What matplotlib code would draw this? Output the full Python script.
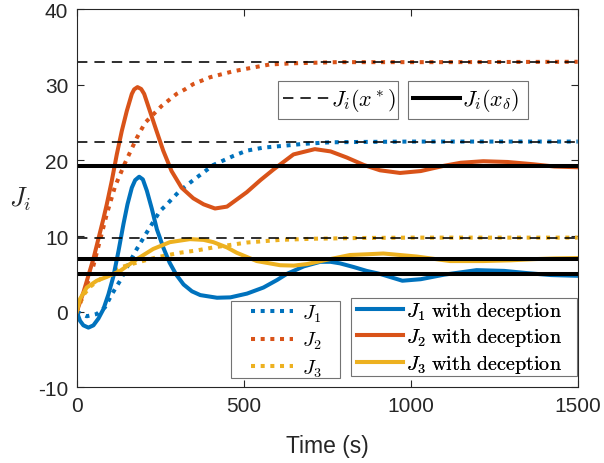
import matplotlib
matplotlib.use("Agg")
import matplotlib.pyplot as plt
from matplotlib.lines import Line2D
from matplotlib.patches import Rectangle

plt.rcParams['font.family'] = ['Liberation Sans', 'DejaVu Sans']
plt.rcParams['mathtext.fontset'] = 'cm'
plt.rcParams['axes.unicode_minus'] = False

# ---- data ----
# J1 with deception
t_j1d = [0, 10, 20, 35, 50, 65, 80, 95, 110, 125, 140, 152, 165, 175, 187, 198, 210, 225,
         240, 260, 278, 298, 320, 345, 370, 420, 460, 510, 559, 600, 629, 680, 729, 760,
         788, 830, 868, 908, 975, 1030, 1100, 1197, 1280, 1350, 1420, 1500]
j1d = [0, -1.2, -1.8, -2.1, -1.8, -0.9, 0.35, 2.3, 4.7, 8.0, 11.6, 14.2, 16.4, 17.4, 17.85,
       17.5, 16.0, 13.6, 10.9, 8.4, 6.5, 4.9, 3.6, 2.7, 2.2, 1.85, 1.9, 2.4, 3.2, 4.2, 5.0,
       6.0, 6.6, 6.6, 6.4, 5.9, 5.4, 5.0, 4.1, 4.3, 4.9, 5.5, 5.4, 5.1, 4.85, 4.75]

# J2 with deception
t_j2d = [0, 20, 50, 80, 90, 105, 120, 135, 150, 165, 172, 182, 193, 202, 219, 239, 259, 284,
         314, 349, 380, 414, 450, 509, 550, 589, 649, 713, 760, 808, 860, 908, 968, 1030,
         1100, 1150, 1217, 1290, 1367, 1430, 1500]
j2d = [0, 2.55, 7.0, 12.3, 14.2, 17.3, 20.8, 23.9, 26.55, 28.8, 29.4, 29.7, 29.45, 28.8,
       26.55, 23.9, 21.3, 18.6, 16.4, 15.0, 14.2, 13.65, 13.9, 15.8, 17.4, 18.8, 20.8, 21.5,
       21.2, 20.4, 19.4, 18.7, 18.35, 18.6, 19.3, 19.7, 19.9, 19.8, 19.5, 19.2, 19.1]

# J3 with deception
t_j3d = [0, 10, 30, 60, 90, 130, 180, 229, 279, 339, 380, 409, 450, 479, 539, 609, 650, 689,
         758, 818, 870, 918, 1018, 1118, 1217, 1300, 1367, 1430, 1500]
j3d = [0, 1.7, 3.2, 4.1, 4.6, 5.4, 6.95, 8.3, 9.2, 9.6, 9.5, 9.2, 8.5, 7.8, 6.7, 6.15, 6.1,
       6.3, 6.95, 7.5, 7.6, 7.7, 7.3, 6.7, 6.7, 6.8, 6.95, 7.05, 7.1]

# J1, J2, J3 without deception (dotted)
t_j1 = [0, 30, 60, 85, 105, 130, 160, 180, 210, 249, 270, 289, 309, 349, 409, 469, 509, 559,
        609, 680, 758, 850, 1000, 1200, 1500]
j1 = [0, -0.6, -0.3, 0.6, 2.3, 4.1, 6.7, 8.3, 10.5, 13.3, 14.2, 15.1, 16.0, 17.4, 19.4, 20.6,
      21.3, 21.7, 21.9, 22.2, 22.4, 22.45, 22.5, 22.5, 22.5]

t_j2 = [0, 25, 50, 70, 90, 115, 145, 180, 205, 254, 299, 324, 349, 399, 469, 529, 579, 650,
        779, 900, 1100, 1500]
j2 = [0, 2.8, 6.1, 9.5, 12.9, 16.6, 19.7, 23.0, 25.0, 27.2, 28.8, 29.4, 30.1, 31.0, 31.8,
      32.3, 32.7, 32.85, 33.0, 33.0, 33.0, 33.05]

t_j3 = [0, 20, 40, 70, 100, 130, 180, 240, 309, 359, 409, 509, 609, 708, 850, 1000, 1200, 1500]
j3 = [0, 2.2, 3.3, 4.3, 5.1, 5.85, 6.5, 7.2, 7.8, 8.1, 8.5, 9.15, 9.5, 9.65, 9.75, 9.8, 9.8, 9.8]

# reference levels
j_star = [33.0, 22.5, 9.8]      # J_i(x*)
j_delta = [19.3, 7.0, 5.0]      # J_i(x_delta)

x_ticks = [0, 500, 1000, 1500]
y_ticks = [-10, 0, 10, 20, 30, 40]

labels_dotted = [r'$J_1$', r'$J_2$', r'$J_3$']
labels_solid = [r'$J_1\ \mathrm{with\ deception}$', r'$J_2\ \mathrm{with\ deception}$',
                r'$J_3\ \mathrm{with\ deception}$']

c1, c2, c3 = '#0072BD', '#D95319', '#EDB120'

W, H = 604, 464
fig = plt.figure(figsize=(W / 100, H / 100), dpi=100)
ax = fig.add_axes([0.127, 0.163, 0.8295, 0.815])

dot = (0, (1, 1.4))
dash = (0, (6.5, 4.4))
lw = 2.9
l1, = ax.plot(t_j1, j1, color=c1, lw=lw, ls=dot, dash_capstyle='butt')
l2, = ax.plot(t_j2, j2, color=c2, lw=lw, ls=dot, dash_capstyle='butt')
l3, = ax.plot(t_j3, j3, color=c3, lw=lw, ls=dot, dash_capstyle='butt')
s1, = ax.plot(t_j1d, j1d, color=c1, lw=lw, solid_joinstyle='round')
s2, = ax.plot(t_j2d, j2d, color=c2, lw=lw, solid_joinstyle='round')
s3, = ax.plot(t_j3d, j3d, color=c3, lw=lw, solid_joinstyle='round')

for v in j_star:
    ax.axhline(v, color='black', lw=1.15, ls=dash)
for v in j_delta:
    ax.axhline(v, color='black', lw=2.9)

ax.set_xlim(0, 1500)
ax.set_ylim(-10, 40)
ax.set_xticks(x_ticks)
ax.set_yticks(y_ticks)
ax.tick_params(direction='in', length=5, width=0.8, top=True, right=True,
               labelsize=15, pad=6, colors='#262626')
for sp in ax.spines.values():
    sp.set_linewidth(0.8)
    sp.set_color('#262626')

ax.set_xlabel('Time (s)', fontsize=16.5, color='#262626', labelpad=14)
ax.set_ylabel(r'$J_i$', fontsize=19, rotation=0, color='#262626', va='center')
ax.yaxis.set_label_coords(-0.113, 0.50)


def box(x0, y0, x1, y1):
    r = Rectangle((x0 / W, 1 - y1 / H), (x1 - x0) / W, (y1 - y0) / H,
                  transform=fig.transFigure, facecolor='white', edgecolor='0.45',
                  lw=0.8, zorder=4.9, clip_on=False)
    ax.add_artist(r)


def leg(handles, labels, x, y, fs, hl, htp, ls=0.15):
    lg = ax.legend(handles, labels, loc='center left', bbox_to_anchor=(x / W, 1 - y / H),
                   bbox_transform=fig.transFigure, frameon=False, borderpad=0,
                   borderaxespad=0, fontsize=fs, handlelength=hl, handletextpad=htp,
                   labelspacing=ls)
    ax.add_artist(lg)
    return lg


box(278.3, 81.7, 398.3, 120)
box(407.7, 81.7, 527.7, 120)
box(230.7, 301.7, 340, 379.3)
box(351, 299.3, 576.7, 376.7)

hd = Line2D([], [], color='black', lw=1.15, ls=dash)
hs = Line2D([], [], color='black', lw=2.9)
leg([hd], [r'$J_i(x^*)$'], 283.3, 101, 16, 2.05, 0.08)
leg([hs], [r'$J_i(x_\delta)$'], 413.3, 101, 16, 2.1, 0.08)
leg([l1, l2, l3], labels_dotted, 250.7, 341.5, 14.5, 2.1, 0.45, ls=0.3)
leg([s1, s2, s3], labels_solid, 356.7, 338.5, 14.5, 2.3, 0.17, ls=0.22)

fig.savefig('out.png', dpi=100)
